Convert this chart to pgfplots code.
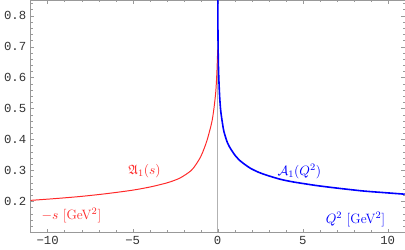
\documentclass[border=0pt]{standalone}
\usepackage{amssymb}
\usepackage{fontspec}
\setmonofont{Liberation Mono}
\usepackage{pgfplots}
\pgfplotsset{compat=1.18}
\definecolor{myred}{RGB}{255,40,40}
\definecolor{myblue}{RGB}{0,0,255}
\begin{document}
\begin{tikzpicture}
\begin{axis}[
  scale only axis,
  width=304pt, height=188.5pt,
  xmin=-11, xmax=11, ymin=0.1, ymax=0.85,
  axis line style={gray!80},
  tick style={gray!80},
  major tick length=3pt, minor tick length=1.6pt,
  xtick={-10,-5,0,5,10},
  xticklabels={−10,−5,0,5,10},
  minor xtick={-11,...,11},
  ytick={0.2,0.3,0.4,0.5,0.6,0.7,0.8},
  yticklabels={0.2,0.3,0.4,0.5,0.6,0.7,0.8},
  minor ytick={0.12,0.14,...,0.84},
  tick label style={font=\ttfamily, text=black!80},
  clip=true,
]
\addplot[gray!60, line width=0.6pt] coordinates {(0,0.1) (0,0.85)};
\addplot[myred, line width=0.8pt, smooth] coordinates {
(-11,0.203) (-9.5,0.209) (-8,0.216) (-6.5,0.225) (-5,0.236) (-4,0.246) (-3.3,0.255)
(-2.78,0.263) (-2.19,0.276) (-1.59,0.298) (-1.3,0.317) (-1.0,0.344)
(-0.8,0.370) (-0.61,0.400) (-0.41,0.441) (-0.31,0.466) (-0.22,0.500)
(-0.16,0.528) (-0.11,0.555) (-0.07,0.59) (-0.04,0.625) (-0.02,0.655) (0,0.69)
};
\addplot[myblue, line width=1.3pt, smooth] coordinates {
(0.008,0.86) (0.015,0.76) (0.03,0.68) (0.05,0.625) (0.08,0.58) (0.12,0.535)
(0.18,0.492) (0.28,0.453) (0.37,0.425) (0.57,0.390) (0.77,0.369) (1.06,0.346)
(1.34,0.330) (1.65,0.317) (1.95,0.306) (2.4,0.294) (2.9,0.284) (3.7,0.271)
(4.4,0.263) (5.08,0.257) (5.8,0.251) (6.66,0.245) (7.6,0.239) (8.62,0.233)
(9.8,0.228) (11,0.223)
};
\node[myred, font=\fontsize{11}{13}\selectfont] at (axis cs:-4.3,0.296) {$\mathfrak{A}_1(s)$};
\node[myred, font=\fontsize{11}{13}\selectfont] at (axis cs:-8.6,0.155) {$-s$ [GeV$^2$]};
\node[myblue, font=\fontsize{11}{13}\selectfont] at (axis cs:4.8,0.297) {$\mathcal{A}_1(Q^2)$};
\node[myblue, font=\fontsize{11}{13}\selectfont] at (axis cs:8.1,0.142) {$Q^2$ [GeV$^2$]};
\end{axis}
\end{tikzpicture}
\end{document}
